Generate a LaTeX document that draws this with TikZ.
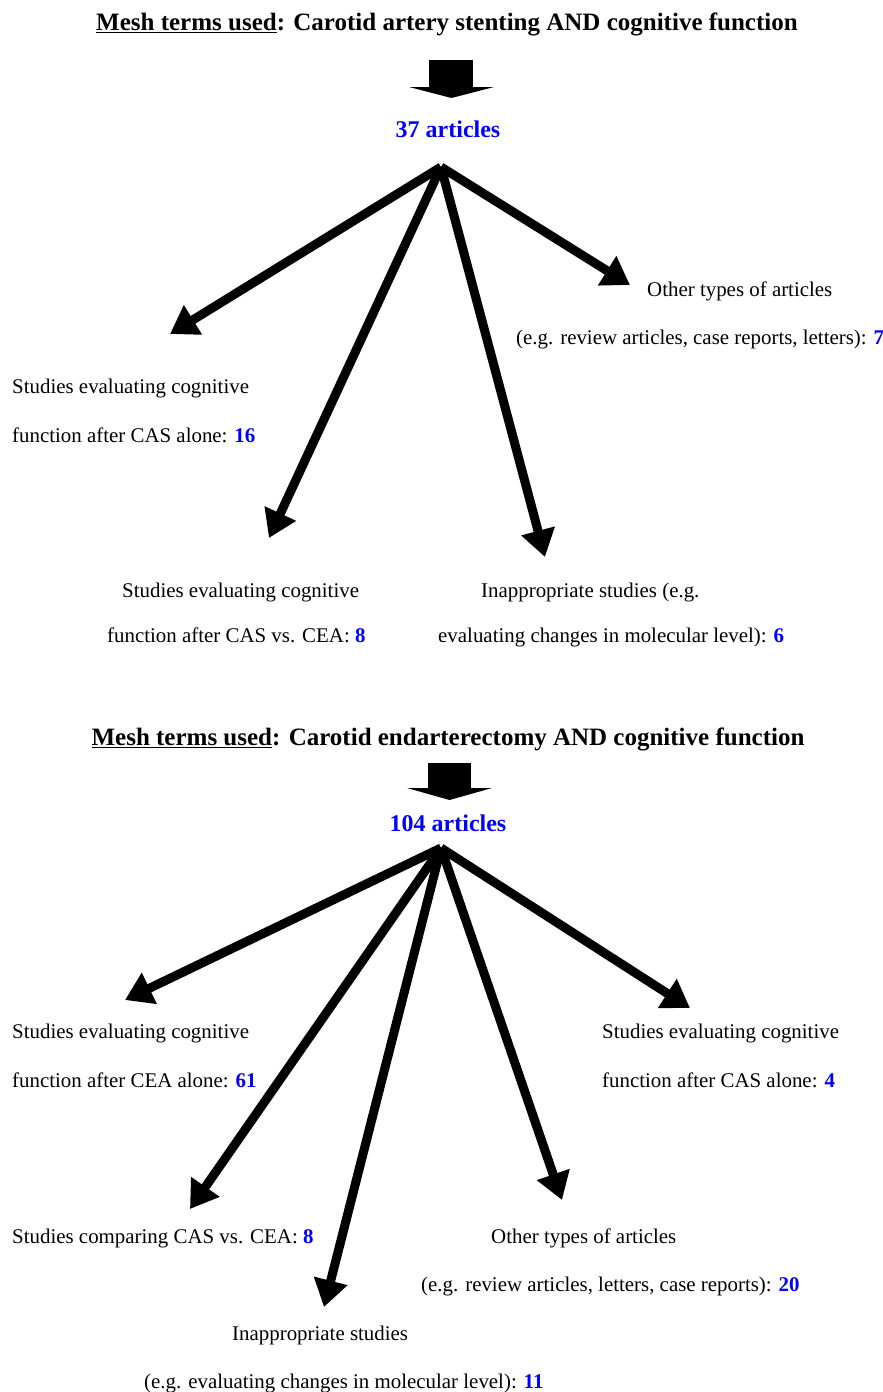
\documentclass[tikz,border=0pt]{standalone}
\usepackage{fontspec}
\setmainfont{Liberation Serif}[BoldFont={Liberation Serif Bold},ItalicFont={Liberation Serif Italic}]
\usetikzlibrary{arrows.meta}
\newcommand{\nb}[1]{\textcolor{blue}{\textbf{#1}}}
\tikzset{
  ttl/.style={anchor=base,inner sep=0pt,font=\fontsize{25}{30}\selectfont\bfseries},
  total/.style={anchor=base,inner sep=0pt,text=blue,font=\fontsize{24}{28.8}\selectfont\bfseries},
  txt/.style={anchor=base west,inner sep=0pt,font=\fontsize{20.9}{25}\selectfont},
  flow/.style={line width=9pt,-{Triangle[length=27pt,width=33pt]}},
}
\begin{document}
\begin{tikzpicture}[x=1pt,y=-1pt]
\path[use as bounding box] (0,0) rectangle (883,1392);
% first search
\node[ttl] (ttlA) at (447,30) {\underline{Mesh terms used}: Carotid artery stenting AND cognitive function};
\fill (429,60) rectangle (473,87.5);
\fill (409,87) -- (494,87) -- (451.5,98) -- cycle;
\node[total] (totA) at (448,137) {37 articles};
\coordinate (srcA) at (441,167);
\coordinate (endA1) at (170,334);
\coordinate (endA2) at (269,538);
\coordinate (endA3) at (545,557);
\coordinate (endA4) at (630,285);
\draw[flow] (srcA) -- (endA1);
\draw[flow] (srcA) -- (endA2);
\draw[flow] (srcA) -- (endA3);
\draw[flow] (srcA) -- (endA4);
\node[txt] (othA1) at (647,296) {Other types of articles};
\node[txt] (othA2) at (516,344) {(e.g. review articles, case reports, letters): \nb{7}};
\node[txt] (casA1) at (12,393) {Studies evaluating cognitive};
\node[txt] (casA2) at (12,442) {function after CAS alone: \nb{16}};
\node[txt] (vsA1) at (122,597) {Studies evaluating cognitive};
\node[txt] (vsA2) at (107,642) {function after CAS vs. CEA: \nb{8}};
\node[txt] (inaA1) at (481,597) {Inappropriate studies (e.g.};
\node[txt] (inaA2) at (438,642) {evaluating changes in molecular level): \nb{6}};
% second search
\node[ttl] (ttlB) at (448,745) {\underline{Mesh terms used}: Carotid endarterectomy AND cognitive function};
\fill (428,763) rectangle (471,788.5);
\fill (407,788) -- (492,788) -- (449.5,800) -- cycle;
\node[total] (totB) at (448,831) {104 articles};
\coordinate (srcB) at (441,848);
\coordinate (endB1) at (125,1000);
\coordinate (endB2) at (190,1209);
\coordinate (endB3) at (324,1307);
\coordinate (endB4) at (562,1200);
\coordinate (endB5) at (690,1008);
\draw[flow] (srcB) -- (endB1);
\draw[flow] (srcB) -- (endB2);
\draw[flow] (srcB) -- (endB3);
\draw[flow] (srcB) -- (endB4);
\draw[flow] (srcB) -- (endB5);
\node[txt] (ceaB1) at (12,1038) {Studies evaluating cognitive};
\node[txt] (ceaB2) at (12,1087) {function after CEA alone: \nb{61}};
\node[txt] (casB1) at (602,1038) {Studies evaluating cognitive};
\node[txt] (casB2) at (602,1087) {function after CAS alone: \nb{4}};
\node[txt] (vsB) at (12,1243) {Studies comparing CAS vs. CEA: \nb{8}};
\node[txt] (othB1) at (491,1243) {Other types of articles};
\node[txt] (othB2) at (421,1291) {(e.g. review articles, letters, case reports): \nb{20}};
\node[txt] (inaB1) at (232,1340) {Inappropriate studies};
\node[txt] (inaB2) at (144,1388) {(e.g. evaluating changes in molecular level): \nb{11}};
\end{tikzpicture}
\end{document}
